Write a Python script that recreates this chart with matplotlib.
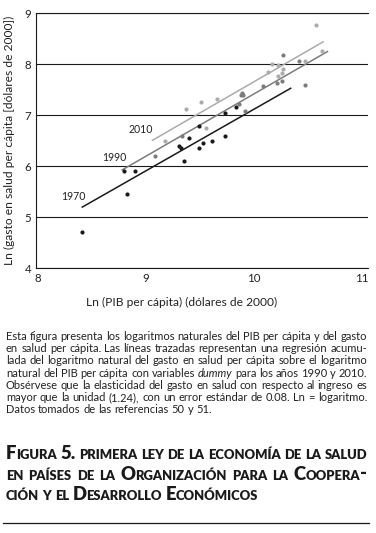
import matplotlib
matplotlib.use('Agg')
import matplotlib.pyplot as plt

plt.rcParams['font.family'] = ['Lato', 'DejaVu Sans']

# ---------------- data ----------------
gdp_1970 = [8.41, 8.80, 8.90, 8.82, 9.35, 9.31, 9.32, 9.40, 9.49, 9.49, 9.53, 9.61, 9.73, 9.73, 9.83]
hs_1970 = [4.71, 5.91, 5.91, 5.46, 6.10, 6.40, 6.36, 6.56, 6.80, 6.36, 6.45, 6.50, 6.59, 7.05, 7.16]
gdp_1990 = [9.08, 9.33, 9.86, 9.92, 9.89, 9.90, 9.88, 10.08, 10.21, 10.26, 10.27, 10.42, 10.47]
hs_1990 = [6.21, 6.60, 7.23, 7.09, 7.44, 7.40, 7.40, 7.57, 7.64, 7.68, 8.18, 8.06, 7.60]
gdp_2010 = [9.18, 9.37, 9.51, 9.56, 9.66, 10.13, 10.17, 10.22, 10.27, 10.26, 10.22, 10.47, 10.57, 10.63]
hs_2010 = [6.50, 7.12, 7.26, 6.76, 7.31, 7.85, 8.00, 7.99, 7.91, 7.83, 7.77, 8.06, 8.78, 8.26]

fit_x_1970 = [8.41, 10.34]
fit_y_1970 = [5.20, 7.53]
fit_x_1990 = [8.78, 10.68]
fit_y_1990 = [5.93, 8.25]
fit_x_2010 = [9.06, 10.64]
fit_y_2010 = [6.51, 8.44]

year_labels = ['1970', '1990', '2010']
x_ticks = [8, 9, 10, 11]
y_ticks = [4, 5, 6, 7, 8, 9]
x_label = 'Ln (PIB per cápita) (dólares de 2000)'
y_label = 'Ln (gasto en salud per cápita [dólares de 2000])'

caption_lines = [
    'Esta figura presenta los logaritmos naturales del PIB per cápita y del gasto',
    'en salud per cápita. Las líneas trazadas representan una regresión acumu-',
    'lada del logaritmo natural del gasto en salud per cápita sobre el logaritmo',
    'natural del PIB per cápita con variables *dummy* para los años 1990 y 2010.',
    'Obsérvese que la elasticidad del gasto en salud con respecto al ingreso es',
    'mayor que la unidad (1.24), con un error estándar de 0.08. Ln = logaritmo.',
    'Datos tomados de las referencias 50 y 51.',
]
title_lines = [
    'Figura 5. primera ley de la economía de la salud',
    'en países de la Organización para la Coopera-',
    'ción y el Desarrollo Económicos',
]

C1970 = '#1a1a1a'
C1990 = '#7c7c7c'
C2010 = '#ababab'

# ---------------- figure ----------------
W, H = 376, 533
fig = plt.figure(figsize=(W / 100, H / 100), dpi=100)
ax = fig.add_axes([36 / W, 1 - 268.3 / H, (368 - 36) / W, (268.3 - 13.3) / H])
ax.set_xlim(8 - 2 / 108, 11 + 6 / 108)
ax.set_ylim(4, 9)

ax.set_xticks(x_ticks)
ax.set_xticklabels([str(v) for v in x_ticks])
ax.set_yticks(y_ticks)
ax.set_yticklabels([str(v) for v in y_ticks])
ax.tick_params(length=0, labelsize=8.3, pad=3.5, colors='#222222')
ax.yaxis.grid(True, color='#1a1a1a', lw=0.8)
ax.xaxis.grid(False)
for s in ['left', 'bottom', 'top']:
    ax.spines[s].set_color('#1a1a1a')
    ax.spines[s].set_linewidth(0.8)
ax.spines['right'].set_visible(False)

ax.plot(fit_x_1970, fit_y_1970, color=C1970, lw=1.1, zorder=3)
ax.plot(fit_x_1990, fit_y_1990, color=C1990, lw=1.1, zorder=3)
ax.plot(fit_x_2010, fit_y_2010, color=C2010, lw=1.1, zorder=3)
ax.scatter(gdp_1970, hs_1970, s=9, color=C1970, lw=0, zorder=4)
ax.scatter(gdp_1990, hs_1990, s=9, color=C1990, lw=0, zorder=4)
ax.scatter(gdp_2010, hs_2010, s=9, color=C2010, lw=0, zorder=4)

ax.text(8.33, 5.40, year_labels[0], fontsize=7.6, ha='center', va='center', color='#222222')
ax.text(8.71, 6.18, year_labels[1], fontsize=7.6, ha='center', va='center', color='#222222')
ax.text(8.95, 6.73, year_labels[2], fontsize=7.6, ha='center', va='center', color='#222222')

renderer = fig.canvas.get_renderer()


def text_width(s, **kw):
    t = fig.text(0, 0, s, **kw)
    w = t.get_window_extent(renderer).width
    t.remove()
    return w


def put(x_px, y_px, s, **kw):
    fig.text(x_px / W, 1 - y_px / H, s, ha='left', va='baseline', **kw)


# axis labels (sized to match the reference widths)
lab_size = 8.0 * 191 / text_width(x_label, fontsize=8.0)
fig.text(181.5 / W, 1 - 306 / H, x_label, fontsize=lab_size, ha='center', va='baseline', color='#222222')
fig.text(9 / W, 1 - 140.8 / H, y_label, fontsize=lab_size, ha='center', va='center',
         rotation=90, color='#222222')


# ---------------- caption (justified) ----------------
def word_runs(word, size):
    runs = []
    if word.startswith('*'):
        core = word.strip('*.,')
        tail = word.replace('*', '')[len(core):]
        runs.append((core, dict(fontsize=size, style='italic', color='#222222')))
        if tail:
            runs.append((tail, dict(fontsize=size, color='#222222')))
    else:
        runs.append((word, dict(fontsize=size, color='#222222')))
    return runs


def natural_width(line, size):
    words = [word_runs(w, size) for w in line.split(' ')]
    widths = [sum(text_width(s, **kw) for s, kw in wr) for wr in words]
    sp = text_width('a b', fontsize=size) - text_width('ab', fontsize=size)
    return sum(widths) + sp * (len(widths) - 1)


x0, x1 = 6, 367
c0 = 7.0
maxnat = max(natural_width(l, c0) for l in caption_lines[:-1])
cap_size = c0 * (x1 - x0) / maxnat

base0, step = 340, 12.2
for i, line in enumerate(caption_lines):
    words = [word_runs(w, cap_size) for w in line.split(' ')]
    widths = [sum(text_width(s, **kw) for s, kw in wr) for wr in words]
    if i < len(caption_lines) - 1:
        gap = (x1 - x0 - sum(widths)) / (len(words) - 1)
    else:
        gap = text_width('a b', fontsize=cap_size) - text_width('ab', fontsize=cap_size)
    x = x0
    y = base0 + i * step
    for wr, wd in zip(words, widths):
        xx = x
        for s, kw in wr:
            put(xx, y, s, **kw)
            xx += text_width(s, **kw)
        x += wd + gap

# ---------------- title (small caps, justified) ----------------
RATIO = 1.42


def sc_runs(word, small):
    runs = []
    for ch in word:
        big = not ch.islower()
        sz = small * RATIO if big else small
        c = ch.upper()
        if runs and runs[-1][1] == sz:
            runs[-1] = (runs[-1][0] + c, sz)
        else:
            runs.append((c, sz))
    return [(s, dict(fontsize=sz, fontweight='heavy', color='#1a1a1a')) for s, sz in runs]


def line_words(line, small):
    words = [sc_runs(w, small) for w in line.split(' ')]
    widths = [sum(text_width(s, **kw) for s, kw in wr) for wr in words]
    return words, widths


s0 = 7.0
sp0 = (text_width('A B', fontsize=s0 * 1.2, fontweight='heavy')
       - text_width('AB', fontsize=s0 * 1.2, fontweight='heavy'))
nat_max = 0
for l in title_lines[:2]:
    _, wd = line_words(l, s0)
    nat_max = max(nat_max, sum(wd) + sp0 * (len(wd) - 1))
small = s0 * (x1 - x0) / nat_max

t_bases = [459, 479.5, 500]
for i, line in enumerate(title_lines):
    words, widths = line_words(line, small)
    if i < 2:
        gap = (x1 - x0 - sum(widths)) / (len(words) - 1)
    else:
        gap = sp0 * small / s0
    x = x0
    for wr, wd in zip(words, widths):
        xx = x
        for s, kw in wr:
            put(xx, t_bases[i], s, **kw)
            xx += text_width(s, **kw)
        x += wd + gap

# bottom rule
fig.add_artist(plt.Line2D([3 / W, 369 / W], [1 - 523 / H, 1 - 523 / H], color='#1a1a1a', lw=0.9))

fig.savefig('out.png', dpi=100)
